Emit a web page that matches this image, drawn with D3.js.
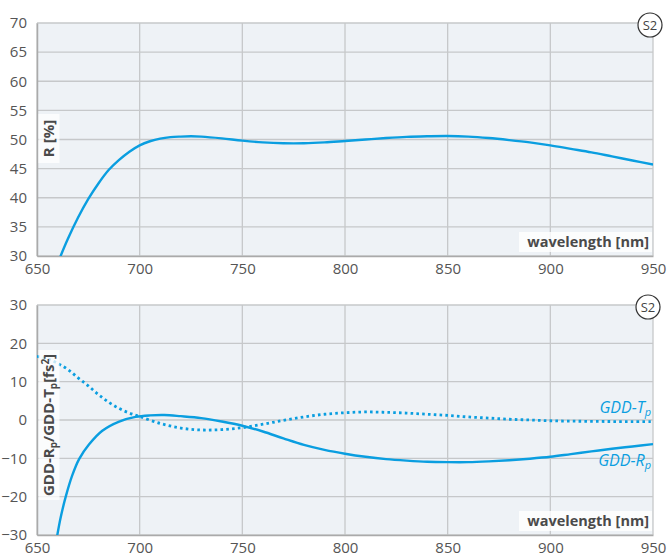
<!DOCTYPE html>
<html>
<head>
<meta charset="utf-8">
<script src="https://cdn.jsdelivr.net/npm/d3@7"></script>
<style>
  html, body { margin: 0; padding: 0; background: #fff; }
  svg { display: block; font-family: "Open Sans", "Noto Sans", sans-serif; }
</style>
</head>
<body>
<svg id="chart" width="667" height="558"></svg>
<script>
// ---------- data ----------
const xTicks = [650, 700, 750, 800, 850, 900, 950];
const rTicks = [30, 35, 40, 45, 50, 55, 60, 65, 70];
const gddTicks = [-30, -20, -10, 0, 10, 20, 30];

const rWavelength = [655, 660, 665, 670, 675, 680, 685, 690, 695, 700, 705, 710, 715, 720, 725, 730, 740, 750, 760, 770, 780, 790, 800, 810, 820, 830, 840, 850, 860, 870, 880, 890, 900, 910, 920, 930, 940, 950];
const rValues     = [24.2, 28.7, 32.9, 36.6, 39.8, 42.5, 44.8, 46.5, 47.9, 49.0, 49.7, 50.15, 50.4, 50.5, 50.55, 50.5, 50.2, 49.8, 49.5, 49.35, 49.35, 49.5, 49.75, 50.0, 50.25, 50.45, 50.55, 50.6, 50.5, 50.25, 49.9, 49.5, 49.0, 48.4, 47.8, 47.1, 46.4, 45.7];

const rpWavelength = [659, 659.9, 661.5, 664, 667.2, 670.5, 675.3, 681.8, 690, 698, 705, 712, 720, 730, 740, 750, 760, 770, 780, 790, 800, 810, 820, 830, 840, 850, 860, 870, 880, 890, 900, 910, 920, 930, 940, 950];
const rpValues     = [-32.9, -30, -25.5, -20, -14.4, -10.2, -6.4, -2.8, -0.4, 0.8, 1.2, 1.3, 1.0, 0.5, -0.4, -1.5, -3.0, -4.8, -6.5, -7.8, -8.8, -9.6, -10.2, -10.6, -10.9, -11.0, -11.0, -10.8, -10.5, -10.1, -9.6, -8.9, -8.2, -7.5, -6.9, -6.3];

const tpWavelength = [650, 655, 660, 665, 670, 675, 680, 685, 690, 695, 700, 710, 720, 730, 740, 750, 760, 770, 780, 790, 800, 810, 820, 830, 840, 850, 860, 870, 880, 890, 900, 910, 920, 930, 940, 950];
const tpValues     = [16.6, 16.0, 14.8, 13.2, 11.0, 8.9, 6.6, 4.6, 3.0, 1.8, 0.9, -0.9, -2.1, -2.6, -2.5, -2.0, -1.1, -0.1, 0.8, 1.5, 1.9, 2.1, 2.0, 1.8, 1.5, 1.2, 0.8, 0.5, 0.2, 0.0, -0.2, -0.3, -0.35, -0.4, -0.4, -0.4];

// ---------- drawing ----------
const svg = d3.select("#chart");
const lineColor = "#0a9ee0";
const textColor = "#555";

function panel(opts) {
  const g = svg.append("g");
  const x = d3.scaleLinear().domain([650, 950]).range([opts.left, opts.right]);
  const y = d3.scaleLinear().domain(opts.yDomain).range([opts.bottom, opts.top]);

  const clipId = "clip" + opts.id;
  svg.append("defs").append("clipPath").attr("id", clipId)
    .append("rect").attr("x", opts.left).attr("y", opts.top)
    .attr("width", opts.right - opts.left).attr("height", opts.bottom - opts.top);

  g.append("rect").attr("x", opts.left).attr("y", opts.top)
    .attr("width", opts.right - opts.left).attr("height", opts.bottom - opts.top)
    .attr("fill", "#eef2f6");

  // grid
  g.append("g").selectAll("line").data(opts.yTicks).join("line")
    .attr("x1", opts.left).attr("x2", opts.right)
    .attr("y1", d => y(d)).attr("y2", d => y(d))
    .attr("stroke", "#c6c8ca").attr("stroke-width", 1.3);
  g.append("g").selectAll("line").data(xTicks).join("line")
    .attr("y1", opts.top).attr("y2", opts.bottom)
    .attr("x1", d => x(d)).attr("x2", d => x(d))
    .attr("stroke", "#c6c8ca").attr("stroke-width", 1.3);

  // axes
  const yAxis = d3.axisLeft(y).tickValues(opts.yTicks).tickSize(0).tickPadding(10);
  const ya = g.append("g").attr("transform", `translate(${opts.left},0)`).call(yAxis);
  ya.select(".domain").attr("stroke", "#aaa").attr("stroke-width", 1.5);
  ya.selectAll("text").attr("fill", textColor).attr("font-size", 15)
    .attr("font-family", "'Open Sans', sans-serif");

  const xAxis = d3.axisBottom(x).tickValues(xTicks).tickSize(0).tickPadding(7);
  const xa = g.append("g").attr("transform", `translate(0,${opts.bottom})`).call(xAxis);
  xa.select(".domain").attr("stroke", "#aaa").attr("stroke-width", 1.5);
  xa.selectAll("text").attr("fill", textColor).attr("font-size", 15)
    .attr("font-family", "'Open Sans', sans-serif");

  // lines
  const lg = g.append("g").attr("clip-path", `url(#${clipId})`);
  opts.series.forEach(s => {
    const pts = s.xs.map((w, i) => [w, s.ys[i]]);
    const line = d3.line().x(d => x(d[0])).y(d => y(d[1])).curve(d3.curveCatmullRom.alpha(0.5));
    lg.append("path").datum(pts).attr("d", line)
      .attr("fill", "none").attr("stroke", lineColor)
      .attr("stroke-width", s.dotted ? 2.8 : 2.4)
      .attr("stroke-dasharray", s.dotted ? "2.6 3.2" : null);
  });

  // y label box
  g.append("rect").attr("x", opts.left + 1.5).attr("y", opts.yLabelBox[0])
    .attr("width", 21).attr("height", opts.yLabelBox[1] - opts.yLabelBox[0])
    .attr("fill", "#fff").attr("opacity", 0.75);
  const cy = (opts.yLabelBox[0] + opts.yLabelBox[1]) / 2;
  const yl = g.append("text")
    .attr("transform", `translate(${opts.left + 17},${cy}) rotate(-90)`)
    .attr("text-anchor", "middle").attr("font-size", 15).attr("font-weight", "bold")
    .attr("fill", "#4a4a4a");
  opts.yLabel(yl);

  // x label box
  g.append("rect").attr("x", opts.right - 134).attr("y", opts.bottom - 24)
    .attr("width", 133).attr("height", 20).attr("fill", "#fff").attr("opacity", 0.8);
  g.append("text").attr("x", opts.right - 4).attr("y", opts.bottom - 9)
    .attr("text-anchor", "end").attr("font-size", 14.5).attr("font-weight", "bold")
    .attr("fill", "#4a4a4a").text("wavelength [nm]");

  // S2 badge
  g.append("circle").attr("cx", opts.badge[0]).attr("cy", opts.badge[1]).attr("r", 12)
    .attr("fill", "#fff").attr("stroke", "#333").attr("stroke-width", 1.2);
  g.append("text").attr("x", opts.badge[0]).attr("y", opts.badge[1] + 5)
    .attr("text-anchor", "middle").attr("font-size", 13).attr("fill", "#444").text("S2");

  return { g, x, y };
}

panel({
  id: 1, left: 37, right: 653, top: 23, bottom: 256,
  yDomain: [30, 70], yTicks: rTicks,
  series: [{ xs: rWavelength, ys: rValues }],
  yLabelBox: [114, 163],
  yLabel: t => t.text("R [%]"),
  badge: [650, 25]
});

const p2 = panel({
  id: 2, left: 37, right: 653, top: 305, bottom: 535,
  yDomain: [-30, 30], yTicks: gddTicks,
  series: [{ xs: rpWavelength, ys: rpValues }, { xs: tpWavelength, ys: tpValues, dotted: true }],
  yLabelBox: [350, 500],
  yLabel: t => {
    t.append("tspan").text("GDD-R");
    t.append("tspan").attr("font-size", 10).attr("dy", 3).text("p");
    t.append("tspan").attr("dy", -3).text("/GDD-T");
    t.append("tspan").attr("font-size", 10).attr("dy", 3).text("p");
    t.append("tspan").attr("dy", -3).text("[fs");
    t.append("tspan").attr("font-size", 10).attr("dy", -5).text("2");
    t.append("tspan").attr("dy", 5).text("]");
  },
  badge: [648, 307]
});

// series labels
function seriesLabel(txt, yPos) {
  const t = p2.g.append("text").attr("x", 651).attr("y", yPos)
    .attr("text-anchor", "end").attr("font-size", 16).attr("font-style", "italic")
    .attr("fill", lineColor);
  t.append("tspan").text(txt);
  t.append("tspan").attr("font-size", 11).attr("dy", 3).text("p");
}
seriesLabel("GDD-T", 413);
seriesLabel("GDD-R", 466);
</script>
</body>
</html>
